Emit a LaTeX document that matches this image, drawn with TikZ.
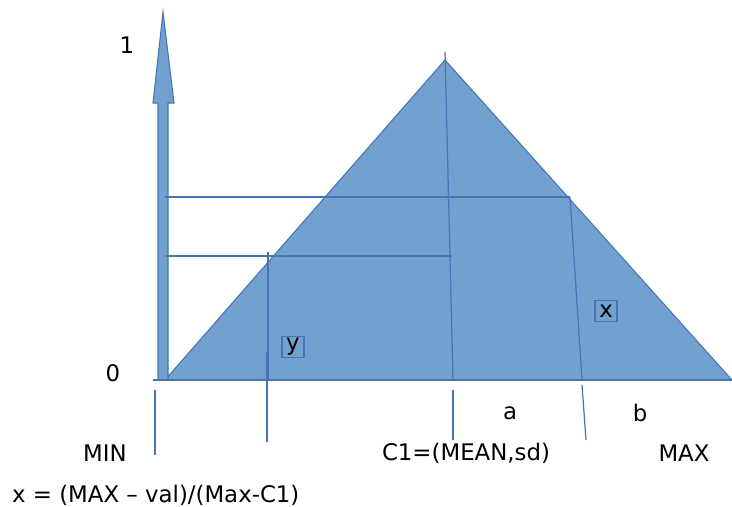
\documentclass[tikz,border=0pt]{standalone}
\usepackage{fontspec}
\setmainfont{DejaVu Sans}
\usepackage{tikz}
\usepackage{xcolor}
\usetikzlibrary{positioning,calc}
\definecolor{areablue}{RGB}{114,160,207}
\definecolor{lineblue}{RGB}{70,116,180}

\begin{document}
\begin{tikzpicture}[
    lbl/.style={font=\fontsize{13}{15}\selectfont, inner sep=1pt},
    boxlbl/.style={lbl, draw=lineblue, line width=0.6pt, minimum width=0.44cm, minimum height=0.42cm, inner sep=0pt, text height=7pt, text depth=0pt},
    tick/.style={draw=lineblue, line width=0.7pt},
    area/.style={fill=areablue, draw=lineblue, line width=0.6pt}
]
    \useasboundingbox (0,0) rectangle (14.64,10.12);

    \coordinate (minpt) at (3.30,2.52);
    \coordinate (apex) at (8.90,8.92);
    \coordinate (maxpt) at (14.64,2.52);
    \filldraw[area] (minpt) -- (apex) -- (maxpt) -- (3.06,2.52) -- cycle;
    \filldraw[area] (3.16,2.52) -- (3.16,8.06) -- (3.06,8.06) -- (3.26,9.88)
        -- (3.48,8.06) -- (3.36,8.06) -- (3.36,2.52) -- cycle;
    \draw[tick] (3.06,2.52) -- (maxpt);

    \coordinate (c1top) at (8.90,9.08);
    \coordinate (c1base) at (9.06,2.52);
    \coordinate (c1a) at (9.06,2.32);
    \coordinate (c1b) at (9.06,1.32);
    \coordinate (hxl) at (3.30,6.18);
    \coordinate (hxr) at (11.40,6.18);
    \coordinate (xbase) at (11.64,2.52);
    \coordinate (xa) at (11.64,2.42);
    \coordinate (xb) at (11.72,1.32);
    \coordinate (hyl) at (3.30,5.00);
    \coordinate (hyr) at (9.04,5.00);
    \coordinate (ytop) at (5.36,5.08);
    \coordinate (ybase) at (5.36,2.52);
    \coordinate (ya) at (5.34,3.08);
    \coordinate (yb) at (5.34,1.28);
    \coordinate (mina) at (3.10,2.32);
    \coordinate (minb) at (3.10,1.02);

    \draw[tick] (c1top) -- (c1base);
    \draw[tick] (c1a) -- (c1b);
    \draw[tick] (hxl) -- (hxr);
    \draw[tick] (hxr) -- (xbase);
    \draw[tick] (xa) -- (xb);
    \draw[tick] (hyl) -- (hyr);
    \draw[tick] (ytop) -- (ybase);
    \draw[tick] (ya) -- (yb);
    \draw[tick] (mina) -- (minb);

    \node[lbl] (one) at (2.54,9.22) {1};
    \node[lbl] (zero) at (2.26,2.66) {0};
    \node[boxlbl, text depth=3pt] (ylbl) at (5.86,3.18) {y};
    \node[boxlbl] (xlbl) at (12.12,3.90) {x};
    \node[lbl] (alabel) at (10.20,1.86) {a};
    \node[lbl] (blabel) at (12.80,1.86) {b};
    \node[lbl] (minlbl) at (2.10,1.06) {MIN};
    \node[lbl] (c1lbl) at (9.32,1.06) {C1=(MEAN,sd)};
    \node[lbl] (maxlbl) at (13.68,1.06) {MAX};
    \node[lbl, anchor=west] (formula) at (0.20,0.22) {x = (MAX – val)/(Max-C1)};
\end{tikzpicture}
\end{document}
